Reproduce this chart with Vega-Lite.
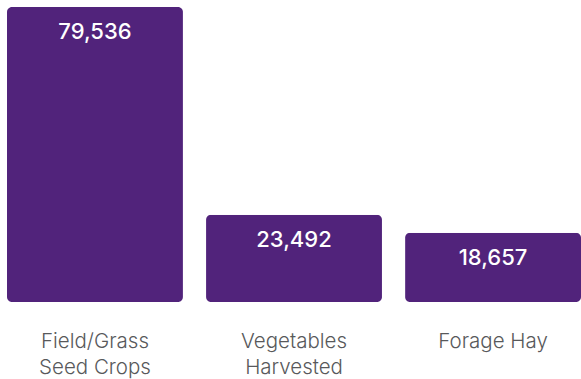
{
  "$schema": "https://vega.github.io/schema/vega-lite/v6.json",
  "autosize": {"type": "none"},
  "width": 581,
  "height": 302,
  "padding": {"left": 0, "right": 0, "top": 0, "bottom": 77},
  "background": "white",
  "config": {"view": {"stroke": null}},
  "data": {
    "values": [
      {"crop": "Field/Grass\nSeed Crops", "value": 79536},
      {"crop": "Vegetables\nHarvested", "value": 23492},
      {"crop": "Forage Hay", "value": 18657}
    ]
  },
  "encoding": {
    "x": {
      "field": "crop",
      "type": "nominal",
      "sort": null,
      "scale": {"paddingInner": 0.116, "paddingOuter": 0.0176, "align": 1},
      "axis": {
        "title": null,
        "domain": false,
        "ticks": false,
        "tickSize": 0,
        "labelAngle": 0,
        "labelPadding": 29,
        "labelFont": "Inter",
        "labelFontSize": 20.5,
        "labelFontWeight": 300,
        "labelColor": "#58595b",
        "labelLineHeight": 26,
        "labelBaseline": "top",
        "labelExpr": "split(datum.label, '\\n')"
      }
    },
    "y": {
      "field": "value",
      "type": "quantitative",
      "scale": {"domain": [0, 81423], "nice": false, "zero": true},
      "axis": null
    }
  },
  "layer": [
    {
      "mark": {"type": "bar", "color": "#51237b", "cornerRadius": 5, "y2Offset": -3}
    },
    {
      "mark": {
        "type": "text",
        "color": "white",
        "font": "Inter",
        "fontSize": 22,
        "fontWeight": 500,
        "baseline": "alphabetic",
        "dy": 32
      },
      "encoding": {
        "text": {"field": "value", "type": "quantitative", "format": ",d"}
      }
    }
  ]
}
